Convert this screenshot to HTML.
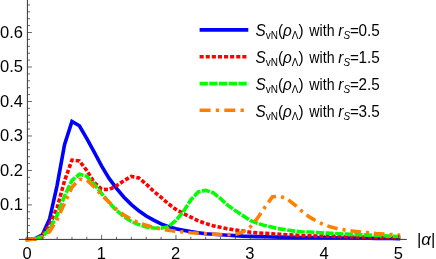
<!DOCTYPE html>
<html><head><meta charset="utf-8"><style>
html,body{margin:0;padding:0;background:#fff;}
body{width:436px;height:259px;overflow:hidden;font-family:"Liberation Sans",sans-serif;}
svg{display:block;will-change:transform;}
</style></head><body>
<svg width="436" height="259" viewBox="0 0 436 259">
<rect width="436" height="259" fill="#fff"/>
<path d="M25.80 239.40 L27.40 239.40 L34.83 238.88 L42.25 234.92 L49.68 218.71 L57.11 185.27 L64.53 144.58 L71.96 121.48 L79.39 125.79 L86.82 138.72 L94.24 152.17 L101.67 166.13 L109.10 178.37 L116.52 188.37 L123.95 197.16 L131.38 204.58 L138.81 210.78 L146.23 215.95 L153.66 220.09 L161.09 223.88 L168.51 226.64 L175.94 228.71 L183.37 230.26 L190.79 231.64 L198.22 232.68 L205.65 233.71 L213.07 234.30 L220.50 234.75 L227.93 235.26 L235.36 235.61 L242.78 236.12 L250.21 236.40 L257.64 236.59 L265.06 236.77 L272.49 236.96 L279.92 237.15 L287.34 237.33 L294.77 237.40 L302.20 237.47 L309.63 237.56 L317.05 237.65 L324.48 237.74 L331.91 237.85 L339.33 237.95 L346.76 238.06 L354.19 238.16 L361.61 238.24 L369.04 238.32 L376.47 238.40 L383.90 238.48 L391.32 238.56 L398.75 238.64 L400.25 238.64" fill="none" stroke="#0000ff" stroke-width="3.6" stroke-linejoin="miter" stroke-miterlimit="3.25" stroke-dashoffset="0.00"/><path d="M25.80 239.40 L27.40 239.40 L34.83 239.06 L42.25 235.26 L49.68 224.92 L57.11 207.68 L64.53 180.78 L71.96 160.10 L79.39 160.89 L86.82 170.58 L94.24 182.51 L101.67 189.23 L109.10 189.58 L116.52 185.78 L123.95 180.61 L131.38 176.44 L138.81 178.03 L146.23 184.06 L153.66 191.30 L161.09 197.33 L168.51 203.89 L175.94 209.40 L183.37 213.54 L190.79 217.16 L198.22 220.78 L205.65 223.54 L213.07 225.78 L220.50 227.33 L227.93 228.78 L235.36 230.02 L242.78 230.95 L250.21 232.26 L257.64 232.95 L265.06 233.40 L272.49 233.81 L279.92 234.33 L287.34 234.68 L294.77 235.12 L302.20 235.64 L309.63 235.80 L317.05 235.96 L324.48 236.12 L331.91 236.32 L339.33 236.52 L346.76 236.72 L354.19 236.92 L361.61 237.04 L369.04 237.17 L376.47 237.30 L383.90 237.42 L391.32 237.55 L398.75 237.68 L400.25 237.68" fill="none" stroke="#ff0000" stroke-width="3.6" stroke-linejoin="miter" stroke-miterlimit="3.25" stroke-dasharray="4.05 1.98" stroke-dashoffset="0.00"/><path d="M25.80 239.40 L27.40 239.40 L34.83 239.06 L42.25 236.64 L49.68 229.06 L57.11 215.26 L64.53 195.96 L71.96 180.44 L79.39 174.23 L86.82 176.30 L94.24 184.23 L101.67 193.54 L109.10 202.51 L116.52 210.44 L123.95 216.64 L131.38 221.47 L138.81 224.57 L146.23 226.99 L153.66 228.02 L161.09 228.19 L168.51 226.64 L175.94 220.44 L183.37 211.64 L190.79 199.92 L198.22 191.99 L205.65 190.27 L213.07 192.68 L220.50 198.71 L227.93 205.44 L235.36 210.61 L242.78 215.61 L250.21 220.44 L257.64 223.37 L265.06 225.61 L272.49 227.33 L279.92 228.88 L287.34 230.09 L294.77 231.12 L302.20 231.99 L309.63 231.99 L317.05 232.50 L324.48 232.95 L331.91 233.37 L339.33 233.78 L346.76 234.12 L354.19 234.47 L361.61 234.81 L369.04 235.16 L376.47 235.50 L383.90 235.85 L391.32 236.19 L398.75 236.47 L400.25 236.47" fill="none" stroke="#00ff00" stroke-width="3.6" stroke-linejoin="miter" stroke-miterlimit="3.25" stroke-dasharray="8.2 1.43" stroke-dashoffset="0.00"/><path d="M25.80 239.40 L27.40 239.40 L34.83 239.06 L42.25 237.33 L49.68 231.47 L57.11 219.75 L64.53 203.20 L71.96 187.34 L79.39 179.06 L86.82 180.09 L94.24 186.99 L101.67 194.92 L109.10 202.16 L116.52 209.40 L123.95 214.92 L131.38 219.40 L138.81 222.85 L146.23 225.26 L153.66 227.50 L161.09 229.06 L168.51 230.26 L175.94 231.30 L183.37 231.99 L190.79 232.68 L198.22 233.19 L205.65 233.71 L213.07 234.16 L220.50 234.47 L227.93 234.64 L235.36 234.30 L242.78 231.99 L250.21 226.99 L257.64 218.02 L265.06 206.99 L272.49 196.82 L279.92 196.13 L287.34 199.06 L294.77 204.92 L302.20 211.47 L309.63 217.16 L317.05 221.47 L324.48 224.92 L331.91 227.33 L339.33 229.06 L346.76 230.33 L354.19 231.23 L361.61 231.99 L369.04 232.68 L376.47 233.47 L383.90 234.06 L391.32 234.57 L398.75 235.02 L400.25 235.02" fill="none" stroke="#ff8000" stroke-width="3.6" stroke-linejoin="miter" stroke-miterlimit="3.25" stroke-dasharray="10.6 5 3.13 4.9" stroke-dashoffset="0.00"/>
<g stroke="#333" stroke-width="1" fill="none"><line x1="18.90" y1="239.40" x2="406.80" y2="239.40"/><line x1="27.40" y1="0" x2="27.40" y2="239.40"/><g stroke-width="0.75"><line x1="27.40" y1="239.40" x2="27.40" y2="234.90"/><line x1="42.25" y1="239.40" x2="42.25" y2="236.80"/><line x1="57.11" y1="239.40" x2="57.11" y2="236.80"/><line x1="71.96" y1="239.40" x2="71.96" y2="236.80"/><line x1="86.82" y1="239.40" x2="86.82" y2="236.80"/><line x1="101.67" y1="239.40" x2="101.67" y2="234.90"/><line x1="116.52" y1="239.40" x2="116.52" y2="236.80"/><line x1="131.38" y1="239.40" x2="131.38" y2="236.80"/><line x1="146.23" y1="239.40" x2="146.23" y2="236.80"/><line x1="161.09" y1="239.40" x2="161.09" y2="236.80"/><line x1="175.94" y1="239.40" x2="175.94" y2="234.90"/><line x1="190.79" y1="239.40" x2="190.79" y2="236.80"/><line x1="205.65" y1="239.40" x2="205.65" y2="236.80"/><line x1="220.50" y1="239.40" x2="220.50" y2="236.80"/><line x1="235.36" y1="239.40" x2="235.36" y2="236.80"/><line x1="250.21" y1="239.40" x2="250.21" y2="234.90"/><line x1="265.06" y1="239.40" x2="265.06" y2="236.80"/><line x1="279.92" y1="239.40" x2="279.92" y2="236.80"/><line x1="294.77" y1="239.40" x2="294.77" y2="236.80"/><line x1="309.63" y1="239.40" x2="309.63" y2="236.80"/><line x1="324.48" y1="239.40" x2="324.48" y2="234.90"/><line x1="339.33" y1="239.40" x2="339.33" y2="236.80"/><line x1="354.19" y1="239.40" x2="354.19" y2="236.80"/><line x1="369.04" y1="239.40" x2="369.04" y2="236.80"/><line x1="383.90" y1="239.40" x2="383.90" y2="236.80"/><line x1="398.75" y1="239.40" x2="398.75" y2="234.90"/><line x1="27.40" y1="239.40" x2="31.90" y2="239.40"/><line x1="27.40" y1="232.50" x2="30.00" y2="232.50"/><line x1="27.40" y1="225.61" x2="30.00" y2="225.61"/><line x1="27.40" y1="218.71" x2="30.00" y2="218.71"/><line x1="27.40" y1="211.82" x2="30.00" y2="211.82"/><line x1="27.40" y1="204.92" x2="31.90" y2="204.92"/><line x1="27.40" y1="198.02" x2="30.00" y2="198.02"/><line x1="27.40" y1="191.13" x2="30.00" y2="191.13"/><line x1="27.40" y1="184.23" x2="30.00" y2="184.23"/><line x1="27.40" y1="177.34" x2="30.00" y2="177.34"/><line x1="27.40" y1="170.44" x2="31.90" y2="170.44"/><line x1="27.40" y1="163.54" x2="30.00" y2="163.54"/><line x1="27.40" y1="156.65" x2="30.00" y2="156.65"/><line x1="27.40" y1="149.75" x2="30.00" y2="149.75"/><line x1="27.40" y1="142.86" x2="30.00" y2="142.86"/><line x1="27.40" y1="135.96" x2="31.90" y2="135.96"/><line x1="27.40" y1="129.06" x2="30.00" y2="129.06"/><line x1="27.40" y1="122.17" x2="30.00" y2="122.17"/><line x1="27.40" y1="115.27" x2="30.00" y2="115.27"/><line x1="27.40" y1="108.38" x2="30.00" y2="108.38"/><line x1="27.40" y1="101.48" x2="31.90" y2="101.48"/><line x1="27.40" y1="94.58" x2="30.00" y2="94.58"/><line x1="27.40" y1="87.69" x2="30.00" y2="87.69"/><line x1="27.40" y1="80.79" x2="30.00" y2="80.79"/><line x1="27.40" y1="73.90" x2="30.00" y2="73.90"/><line x1="27.40" y1="67.00" x2="31.90" y2="67.00"/><line x1="27.40" y1="60.10" x2="30.00" y2="60.10"/><line x1="27.40" y1="53.21" x2="30.00" y2="53.21"/><line x1="27.40" y1="46.31" x2="30.00" y2="46.31"/><line x1="27.40" y1="39.42" x2="30.00" y2="39.42"/><line x1="27.40" y1="32.52" x2="31.90" y2="32.52"/><line x1="27.40" y1="25.62" x2="30.00" y2="25.62"/><line x1="27.40" y1="18.73" x2="30.00" y2="18.73"/><line x1="27.40" y1="11.83" x2="30.00" y2="11.83"/><line x1="27.40" y1="4.94" x2="30.00" y2="4.94"/></g></g>
<g font-family="Liberation Sans, sans-serif" font-size="16.5" fill="#000"><text transform="translate(27.10 258.50) scale(1 1.05)" text-anchor="middle">0</text><text transform="translate(101.37 258.50) scale(1 1.05)" text-anchor="middle">1</text><text transform="translate(175.64 258.50) scale(1 1.05)" text-anchor="middle">2</text><text transform="translate(249.91 258.50) scale(1 1.05)" text-anchor="middle">3</text><text transform="translate(324.18 258.50) scale(1 1.05)" text-anchor="middle">4</text><text transform="translate(398.45 258.50) scale(1 1.05)" text-anchor="middle">5</text><text x="22.90" y="210.22" text-anchor="end">0.1</text><text x="22.90" y="175.74" text-anchor="end">0.2</text><text x="22.90" y="141.26" text-anchor="end">0.3</text><text x="22.90" y="106.78" text-anchor="end">0.4</text><text x="22.90" y="72.30" text-anchor="end">0.5</text><text x="22.90" y="37.82" text-anchor="end">0.6</text></g>
<line x1="199.60" y1="29.90" x2="248.30" y2="29.90" stroke="#0000ff" stroke-width="3.6"/><text transform="translate(255.50 36.25) scale(0.98 1)" font-family="Liberation Sans, sans-serif" font-size="15.6" fill="#000"><tspan font-style="italic">S</tspan><tspan font-size="10.2" dy="3">vN</tspan><tspan dy="-3">(</tspan><tspan font-style="italic">ρ</tspan><tspan font-size="10.2" dy="3">Λ</tspan><tspan dy="-3">)</tspan></text><text transform="translate(309.30 36.25) scale(0.91 1)" font-family="Liberation Sans, sans-serif" font-size="15.6" fill="#000">with</text><text transform="translate(338.30 36.25) scale(0.98 1)" font-family="Liberation Sans, sans-serif" font-size="15.6" fill="#000"><tspan font-style="italic">r</tspan><tspan font-size="10.2" font-style="italic" dy="3">S</tspan><tspan dy="-3">=</tspan></text><text transform="translate(358.40 36.25) scale(0.98 1)" font-family="Liberation Sans, sans-serif" font-size="15.6" fill="#000">0.5</text><line x1="199.60" y1="56.70" x2="248.30" y2="56.70" stroke="#ff0000" stroke-width="3.6" stroke-dasharray="4.1 2"/><text transform="translate(255.50 63.05) scale(0.98 1)" font-family="Liberation Sans, sans-serif" font-size="15.6" fill="#000"><tspan font-style="italic">S</tspan><tspan font-size="10.2" dy="3">vN</tspan><tspan dy="-3">(</tspan><tspan font-style="italic">ρ</tspan><tspan font-size="10.2" dy="3">Λ</tspan><tspan dy="-3">)</tspan></text><text transform="translate(309.30 63.05) scale(0.91 1)" font-family="Liberation Sans, sans-serif" font-size="15.6" fill="#000">with</text><text transform="translate(338.30 63.05) scale(0.98 1)" font-family="Liberation Sans, sans-serif" font-size="15.6" fill="#000"><tspan font-style="italic">r</tspan><tspan font-size="10.2" font-style="italic" dy="3">S</tspan><tspan dy="-3">=</tspan></text><text transform="translate(358.40 63.05) scale(0.98 1)" font-family="Liberation Sans, sans-serif" font-size="15.6" fill="#000">1.5</text><line x1="199.60" y1="83.60" x2="248.30" y2="83.60" stroke="#00ff00" stroke-width="3.6" stroke-dasharray="8.3 1.4"/><text transform="translate(255.50 89.95) scale(0.98 1)" font-family="Liberation Sans, sans-serif" font-size="15.6" fill="#000"><tspan font-style="italic">S</tspan><tspan font-size="10.2" dy="3">vN</tspan><tspan dy="-3">(</tspan><tspan font-style="italic">ρ</tspan><tspan font-size="10.2" dy="3">Λ</tspan><tspan dy="-3">)</tspan></text><text transform="translate(309.30 89.95) scale(0.91 1)" font-family="Liberation Sans, sans-serif" font-size="15.6" fill="#000">with</text><text transform="translate(338.30 89.95) scale(0.98 1)" font-family="Liberation Sans, sans-serif" font-size="15.6" fill="#000"><tspan font-style="italic">r</tspan><tspan font-size="10.2" font-style="italic" dy="3">S</tspan><tspan dy="-3">=</tspan></text><text transform="translate(358.40 89.95) scale(0.98 1)" font-family="Liberation Sans, sans-serif" font-size="15.6" fill="#000">2.5</text><line x1="199.60" y1="110.20" x2="248.30" y2="110.20" stroke="#ff8000" stroke-width="3.6" stroke-dasharray="11 5.2 3.3 5.2"/><text transform="translate(255.50 116.55) scale(0.98 1)" font-family="Liberation Sans, sans-serif" font-size="15.6" fill="#000"><tspan font-style="italic">S</tspan><tspan font-size="10.2" dy="3">vN</tspan><tspan dy="-3">(</tspan><tspan font-style="italic">ρ</tspan><tspan font-size="10.2" dy="3">Λ</tspan><tspan dy="-3">)</tspan></text><text transform="translate(309.30 116.55) scale(0.91 1)" font-family="Liberation Sans, sans-serif" font-size="15.6" fill="#000">with</text><text transform="translate(338.30 116.55) scale(0.98 1)" font-family="Liberation Sans, sans-serif" font-size="15.6" fill="#000"><tspan font-style="italic">r</tspan><tspan font-size="10.2" font-style="italic" dy="3">S</tspan><tspan dy="-3">=</tspan></text><text transform="translate(358.40 116.55) scale(0.98 1)" font-family="Liberation Sans, sans-serif" font-size="15.6" fill="#000">3.5</text>
<text x="417.00" y="245.30" font-family="Liberation Sans, sans-serif" font-size="16.8" fill="#000">|<tspan font-style="italic">α</tspan>|</text>
</svg>
</body></html>
